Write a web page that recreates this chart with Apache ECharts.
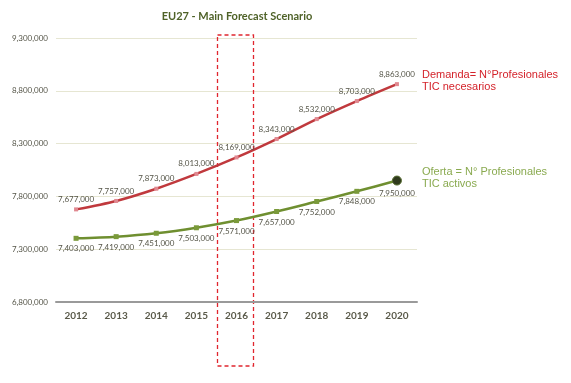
<!DOCTYPE html>
<html>
<head>
<meta charset="utf-8">
<script src="https://cdn.jsdelivr.net/npm/echarts@6/dist/echarts.min.js"></script>
<style>html,body{margin:0;padding:0;background:#fff}#c{width:571px;height:383px}</style>
</head>
<body>
<div id="c"></div>
<script>
var years = ['2012','2013','2014','2015','2016','2017','2018','2019','2020'];
var demanda = [7677000, 7757000, 7873000, 8013000, 8169000, 8343000, 8532000, 8703000, 8863000];
var oferta = [7403000, 7419000, 7451000, 7503000, 7571000, 7657000, 7752000, 7848000, 7950000];
var yMin = 6800000, yMax = 9300000, yStep = 500000;
var highlightYear = '2016';
var titleText = 'EU27 - Main Forecast Scenario';
var demandaText = 'Demanda= N°Profesionales\nTIC necesarios';
var ofertaText = 'Oferta = N° Profesionales\nTIC activos';

function fmt(v){ return v.toLocaleString('en-US'); }

var chart = echarts.init(document.getElementById('c'), null, {renderer:'canvas'});
var labelStyle = {show:true, fontFamily:'Lato', fontSize:8, color:'#555548', formatter:function(p){return fmt(p.value);}};

var ofertaData = oferta.map(function(v,i){
  if (i === oferta.length-1) return {value:v, symbol:'circle', symbolSize:9, itemStyle:{color:'#2f3a1c', borderColor:'#556b2f', borderWidth:1}};
  return v;
});

chart.setOption({
  animation:false,
  title:{text:titleText, left:232, top:6, textAlign:'center',
    textStyle:{fontFamily:'Lato', fontSize:11, fontWeight:'bold', color:'#4f6228'}},
  grid:{left:56, right:154, top:38, bottom:81},
  xAxis:{type:'category', data:years, boundaryGap:true,
    axisLine:{lineStyle:{color:'#9a9a9a', width:2}}, axisTick:{show:false},
    axisLabel:{fontFamily:'Lato', fontSize:10, fontWeight:'bold', color:'#5a5a4a', margin:9}},
  yAxis:{type:'value', min:yMin, max:yMax, interval:yStep,
    axisLine:{show:false}, axisTick:{show:false},
    splitLine:{lineStyle:{color:'#e6e6d2', width:1}},
    axisLabel:{fontFamily:'Lato', fontSize:8, color:'#555548', margin:8, formatter:function(v){return fmt(v);}}},
  series:[
    {type:'line', data:demanda, smooth:0.3, symbol:'rect', symbolSize:4,
      lineStyle:{color:'#c0393d', width:2.5}, itemStyle:{color:'#e08890'},
      label:Object.assign({position:'top', distance:4}, labelStyle)},
    {type:'line', data:ofertaData, smooth:0.3, symbol:'rect', symbolSize:5,
      lineStyle:{color:'#6f8f30', width:2.5}, itemStyle:{color:'#7a9a3a'},
      label:Object.assign({position:'bottom', distance:4}, labelStyle)}
  ]
});

var cx = chart.convertToPixel({xAxisIndex:0}, highlightYear);
var yTop = chart.convertToPixel({yAxisIndex:0}, yMax);
var yBot = chart.convertToPixel({yAxisIndex:0}, yMin);
var lastD = chart.convertToPixel({seriesIndex:0}, [years.length-1, demanda[demanda.length-1]]);
var lastO = chart.convertToPixel({seriesIndex:1}, [years.length-1, oferta[oferta.length-1]]);

chart.setOption({
  graphic:[
    {type:'rect', shape:{x:cx-19, y:yTop-3, width:36, height:(yBot-yTop)+67},
      style:{fill:'none', stroke:'#e0262e', lineWidth:1.3, lineDash:[4,3]}},
    {type:'text', x:lastD[0]+25, y:lastD[1]-15,
      style:{text:demandaText, fontFamily:'Liberation Sans', fontSize:11, lineHeight:12, fill:'#d4232b'}},
    {type:'text', x:lastO[0]+25, y:lastO[1]-15,
      style:{text:ofertaText, fontFamily:'Liberation Sans', fontSize:11, lineHeight:12, fill:'#8aaa50'}}
  ]
});
</script>
</body>
</html>
